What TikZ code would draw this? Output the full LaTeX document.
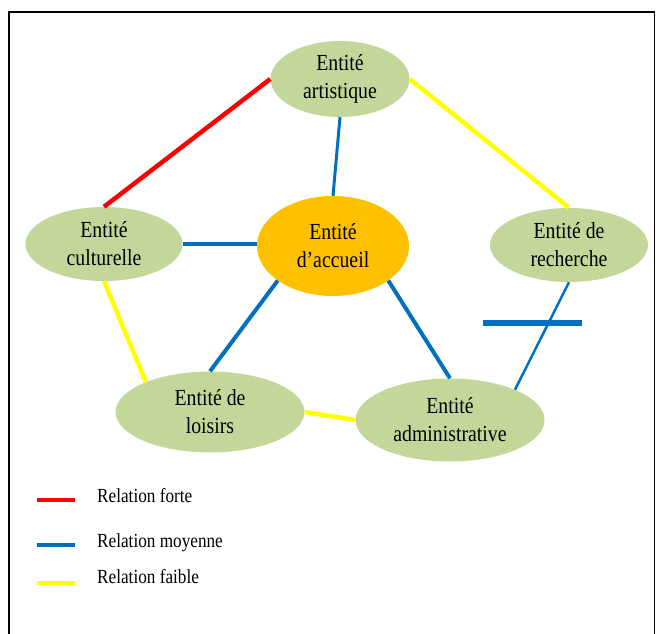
\documentclass[tikz,border=0pt]{standalone}
\usepackage{fontspec}
\setmainfont{Liberation Serif}[FakeStretch=0.86]
\usetikzlibrary{shapes.geometric}
\definecolor{entgreen}{RGB}{196,215,155}
\definecolor{entorange}{RGB}{255,192,0}
\definecolor{relred}{RGB}{255,0,0}
\definecolor{relblue}{RGB}{0,112,192}
\definecolor{relyellow}{RGB}{255,255,0}

\begin{document}
\begin{tikzpicture}[x=1pt, y=-1pt,
  ent/.style={ellipse, fill=entgreen, inner sep=0pt, align=center, font=\fontsize{23}{28}\selectfont},
  accueil/.style={ent, fill=entorange},
  forte/.style={relred, line width=4.5pt},
  moy/.style={relblue, line width=4pt},
  faible/.style={relyellow, line width=4.5pt},
  lab/.style={anchor=base west, inner sep=0pt, font=\fontsize{20}{22}\selectfont}]
\useasboundingbox (0,0) rectangle (656,634);
\draw[line width=1.5pt] (9,634) -- (9,12) -- (654.5,12) -- (654.5,634);
% entities
\node[ent, minimum width=139pt, minimum height=76pt] (art) at (340,79) {Entité\\artistique};
\node[ent, minimum width=157pt, minimum height=74pt] (cult) at (104,244) {Entité\\culturelle};
\node[accueil, minimum width=152pt, minimum height=100pt] (acc) at (333,246) {Entité\\d’accueil};
\node[ent, minimum width=158pt, minimum height=74pt] (rech) at (569,245) {Entité de\\recherche};
\node[ent, minimum width=189pt, minimum height=81pt] (lois) at (210,412) {Entité de\\loisirs};
\node[ent, minimum width=189pt, minimum height=83pt] (adm) at (450,420) {Entité\\administrative};
% relations
\draw[forte] (cult.north) -- (art.west);
\draw[faible] (art.east) -- (rech.north);
\draw[moy, line width=3pt] (art.south) -- (acc.north);
\draw[moy, line width=3.5pt] (cult.east) -- (acc.west|-cult.east);
\draw[moy] (acc.212) -- (lois.north);
\draw[moy] (acc.328) -- (adm.north);
\draw[faible] (cult.south) -- (lois.155);
\draw[faible] (lois.east) -- (adm.west);
\draw[moy, line width=2.5pt] (rech.south) -- (adm.25);
\coordinate (barl) at (483,323);
\coordinate (barr) at (582,323);
\draw[moy, line width=5.5pt] (barl) -- (barr);
% legend
\coordinate (fl) at (37,500);
\coordinate (fr) at (75,500);
\coordinate (ml) at (37,545);
\coordinate (mr) at (75,545);
\coordinate (wl) at (37,583);
\coordinate (wr) at (75,583);
\draw[forte, line width=4pt] (fl) -- (fr);
\draw[moy] (ml) -- (mr);
\draw[faible, line width=4pt] (wl) -- (wr);
\node[lab] (lforte) at (97,502) {Relation forte};
\node[lab] (lmoy) at (97,547) {Relation moyenne};
\node[lab] (lfaible) at (97,583) {Relation faible};
\end{tikzpicture}
\end{document}
